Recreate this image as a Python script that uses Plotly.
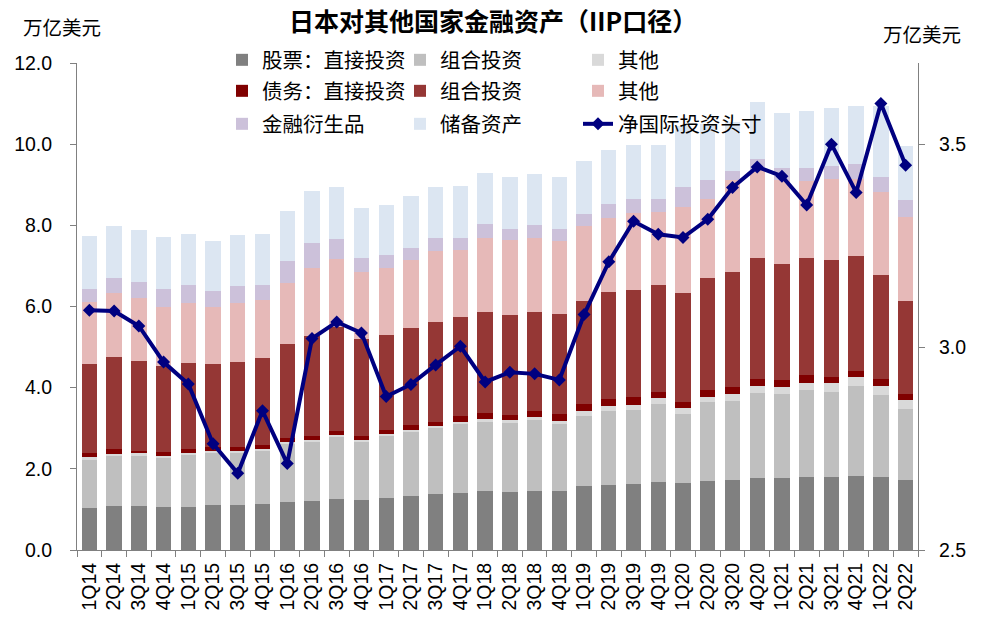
import plotly.graph_objects as go

categories = ["1Q14","2Q14","3Q14","4Q14","1Q15","2Q15","3Q15","4Q15",
              "1Q16","2Q16","3Q16","4Q16","1Q17","2Q17","3Q17","4Q17",
              "1Q18","2Q18","3Q18","4Q18","1Q19","2Q19","3Q19","4Q19",
              "1Q20","2Q20","3Q20","4Q20","1Q21","2Q21","3Q21","4Q21",
              "1Q22","2Q22"]

equity_direct = [1.04,1.09,1.08,1.06,1.07,1.11,1.11,1.13,1.18,1.21,1.26,1.23,1.29,1.34,1.37,1.41,
                 1.46,1.44,1.45,1.46,1.58,1.61,1.63,1.68,1.64,1.71,1.73,1.78,1.78,1.81,1.81,1.83,1.79,1.73]
equity_portfolio = [1.18,1.23,1.26,1.20,1.26,1.27,1.29,1.32,1.45,1.46,1.53,1.42,1.52,1.57,1.63,1.69,
                    1.70,1.70,1.75,1.64,1.73,1.82,1.82,1.92,1.71,1.93,1.95,2.10,2.06,2.13,2.09,2.21,2.03,1.74]
equity_other = [0.06,0.05,0.04,0.06,0.05,0.05,0.05,0.05,0.04,0.05,0.04,0.05,0.04,0.05,0.05,0.06,
                0.06,0.06,0.07,0.07,0.12,0.12,0.12,0.14,0.14,0.14,0.16,0.16,0.17,0.18,0.21,0.23,0.22,0.23]
debt_direct = [0.12,0.12,0.07,0.10,0.11,0.10,0.10,0.09,0.08,0.10,0.10,0.11,0.11,0.12,0.11,0.13,
               0.15,0.13,0.16,0.17,0.16,0.18,0.19,0.16,0.16,0.16,0.17,0.17,0.18,0.18,0.16,0.14,0.17,0.14]
debt_portfolio = [2.18,2.27,2.21,2.11,2.11,2.05,2.08,2.14,2.33,2.46,2.56,2.39,2.35,2.39,2.46,2.44,
                  2.50,2.46,2.43,2.47,2.55,2.63,2.65,2.63,2.69,2.77,2.85,2.99,2.86,2.90,2.88,2.84,2.57,2.30]
debt_other = [1.54,1.57,1.54,1.45,1.48,1.42,1.45,1.43,1.51,1.67,1.68,1.64,1.63,1.68,1.74,1.66,
              1.83,1.84,1.84,1.80,1.84,1.82,1.90,1.81,2.12,1.93,2.26,2.16,2.07,1.90,1.98,1.88,2.05,2.07]
derivatives = [0.32,0.37,0.40,0.46,0.46,0.38,0.43,0.37,0.52,0.62,0.50,0.36,0.33,0.30,0.32,0.31,
               0.33,0.29,0.32,0.31,0.30,0.35,0.34,0.31,0.49,0.48,0.23,0.27,0.29,0.32,0.33,0.38,0.37,0.41]
reserves = [1.29,1.28,1.29,1.27,1.25,1.24,1.25,1.26,1.25,1.27,1.27,1.23,1.24,1.27,1.26,1.27,
            1.27,1.27,1.25,1.26,1.31,1.33,1.32,1.33,1.50,1.38,1.20,1.40,1.37,1.39,1.43,1.43,1.75,1.34]
niip = [3.091,3.089,3.052,2.963,2.909,2.762,2.689,2.843,2.713,3.021,3.062,3.035,2.878,2.908,2.956,3.002,
        2.914,2.938,2.934,2.919,3.080,3.210,3.310,3.278,3.270,3.315,3.393,3.444,3.421,3.350,3.500,3.381,
        3.600,3.448]

left_ticks = [0, 2, 4, 6, 8, 10, 12]
right_ticks = [2.5, 3.0, 3.5]

FONT = "Liberation Sans, Arial, Noto Sans CJK SC"
CJK = "Noto Sans CJK SC, Liberation Sans"

bar_series = [
    ("股票：直接投资", equity_direct, "#808080", "legend"),
    ("组合投资", equity_portfolio, "#BFBFBF", "legend"),
    ("其他", equity_other, "#D9D9D9", "legend"),
    ("债务：直接投资", debt_direct, "#800000", "legend2"),
    ("组合投资", debt_portfolio, "#953735", "legend2"),
    ("其他", debt_other, "#E6B9B8", "legend2"),
    ("金融衍生品", derivatives, "#CCC1DA", "legend3"),
    ("储备资产", reserves, "#DCE6F2", "legend3"),
]

fig = go.Figure()
for name, vals, color, lg in bar_series:
    fig.add_trace(go.Bar(x=categories, y=vals, name=name, marker=dict(color=color, line=dict(width=0)),
                         legend=lg, yaxis="y"))

fig.add_trace(go.Scatter(x=categories, y=niip, name="净国际投资头寸", mode="lines+markers",
                         line=dict(color="#000080", width=4),
                         marker=dict(symbol="diamond", size=10, color="#000080"),
                         yaxis="y2", legend="legend3", legendwidth=175))

axis_col = "#808080"
PW = 841.0
def lx(px):
    return (px - 77) / PW
def ly(py):
    return (550 - py) / 487.0

legend_common = dict(orientation="h", xanchor="left", yanchor="middle",
                     entrywidth=133, entrywidthmode="pixels",
                     font=dict(family=CJK, size=20.5, color="#000000"),
                     bgcolor="rgba(0,0,0,0)", itemwidth=30, traceorder="normal")

fig.update_layout(
    width=990, height=634,
    margin=dict(l=77, r=72, t=63, b=84, pad=0),
    paper_bgcolor="white", plot_bgcolor="white",
    barmode="stack", bargap=0.38,
    font=dict(family=FONT, size=19, color="#000000"),
    showlegend=True,
    legend=dict(x=lx(222), y=ly(60), **legend_common),
    legend2=dict(x=lx(222), y=ly(91), **legend_common),
    legend3=dict(x=lx(222), y=ly(124), **legend_common),
    xaxis=dict(type="category", showline=True, linecolor=axis_col, linewidth=1,
               ticks="outside", ticklen=6, tickcolor=axis_col, tickson="boundaries",
               tickangle=-90, tickfont=dict(family=FONT, size=19.5),
               ticklabelstandoff=4,
               showgrid=False, zeroline=False, range=[-0.5, 33.5]),
    yaxis=dict(range=[0, 12], tickvals=left_ticks, tickformat=".1f",
               showline=True, linecolor=axis_col, linewidth=1,
               ticks="outside", ticklen=6, tickcolor=axis_col,
               ticklabelstandoff=14,
               tickfont=dict(family=FONT, size=19.5), showgrid=False, zeroline=False),
    yaxis2=dict(range=[2.5, 3.7], tickvals=right_ticks, tickformat=".1f",
                overlaying="y", side="right", anchor="x",
                showline=True, linecolor=axis_col, linewidth=1,
                ticks="outside", ticklen=6, tickcolor=axis_col,
                ticklabelstandoff=10,
                tickfont=dict(family=FONT, size=19.5), showgrid=False, zeroline=False),
    annotations=[
        dict(text="<b>日本对其他国家金融资产（IIP口径）</b>", xref="paper", yref="paper",
             x=lx(493), y=ly(20), xanchor="center", yanchor="middle", showarrow=False,
             font=dict(family=CJK, size=25, color="#000000")),
        dict(text="万亿美元", xref="paper", yref="paper", x=lx(21), y=ly(26),
             xanchor="left", yanchor="middle", showarrow=False,
             font=dict(family=CJK, size=19.5, color="#000000")),
        dict(text="万亿美元", xref="paper", yref="paper", x=lx(881), y=ly(33),
             xanchor="left", yanchor="middle", showarrow=False,
             font=dict(family=CJK, size=19.5, color="#000000")),
    ],
)

fig.write_html("out.html")
